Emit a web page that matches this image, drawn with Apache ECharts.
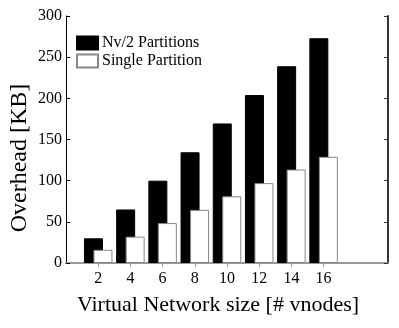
<!DOCTYPE html>
<html>
<head>
<meta charset="utf-8">
<script src="https://cdn.jsdelivr.net/npm/echarts@6/dist/echarts.min.js"></script>
<style>
  html, body { margin: 0; padding: 0; background: #fff; }
  #chart { width: 399px; height: 328px; }
</style>
</head>
<body>
<div id="chart"></div>
<script>
// x positions 0..20, bars only at 2..16
const sizes = ['0', '2', '4', '6', '8', '10', '12', '14', '16', '18', '20'];
const nvHalf = ['-', 30, 65, 100, 134.5, 169.5, 204, 239, 273, '-', '-'];
const single = ['-', 16, 32, 48.5, 64.5, 81, 97, 113.5, 129, '-', '-'];

const serif = "'Liberation Serif', 'Times New Roman', serif";
const shown = (i) => i >= 1 && i <= 8;

const chart = echarts.init(document.getElementById('chart'));
chart.setOption({
    animation: false,
    textStyle: { fontFamily: serif },
    grid: { left: 66, right: 11, top: 16, bottom: 65, containLabel: false, outerBoundsMode: 'none' },
    legend: {
        orient: 'vertical',
        left: 76,
        top: 35,
        padding: 0,
        itemGap: 2,
        itemWidth: 21,
        itemHeight: 13,
        icon: 'rect',
        textStyle: { fontFamily: serif, fontSize: 16, lineHeight: 13, color: '#000', padding: [0, 0, 0, -1] },
        data: ['Nv/2 Partitions', 'Single Partition']
    },
    graphic: [
        {
            type: 'text',
            x: 218,
            y: 305,
            style: {
                text: 'Virtual Network size [# vnodes]',
                font: "22px 'Liberation Serif', serif",
                fill: '#000',
                align: 'center',
                verticalAlign: 'middle'
            }
        },
        {
            type: 'text',
            x: 20,
            y: 158,
            rotation: Math.PI / 2,
            style: {
                text: 'Overhead [KB]',
                font: "24px 'Liberation Serif', serif",
                fill: '#000',
                align: 'center',
                verticalAlign: 'middle'
            }
        }
    ],
    xAxis: [
        {
            type: 'category',
            data: sizes,
            boundaryGap: false,
            axisLine: { lineStyle: { color: '#000', width: 1 } },
            axisTick: { inside: true, length: 4, interval: shown, lineStyle: { color: '#000' } },
            axisLabel: {
                interval: shown,
                fontFamily: serif, fontSize: 16, color: '#000', margin: 8
            },
            splitLine: { show: false }
        },
        {
            type: 'category',
            data: sizes,
            boundaryGap: false,
            position: 'top',
            axisLine: { lineStyle: { color: '#999', width: 2 } },
            axisTick: { inside: true, length: 4, interval: shown, lineStyle: { color: '#999' } },
            axisLabel: { show: false },
            splitLine: { show: false }
        }
    ],
    yAxis: [
        {
            type: 'value',
            min: 0,
            max: 300,
            interval: 50,
            axisLine: { show: true, lineStyle: { color: '#000', width: 1 } },
            axisTick: { show: true, inside: true, length: 4, lineStyle: { color: '#000' } },
            axisLabel: { fontFamily: serif, fontSize: 16, color: '#000', margin: 4 },
            splitLine: { show: false }
        },
        {
            type: 'value',
            min: 0,
            max: 300,
            interval: 50,
            position: 'right',
            axisLine: { show: true, lineStyle: { color: '#333', width: 2 } },
            axisTick: { show: true, inside: true, length: 4, lineStyle: { color: '#333' } },
            axisLabel: { show: false },
            splitLine: { show: false }
        }
    ],
    series: [
        {
            name: 'Nv/2 Partitions',
            type: 'bar',
            data: nvHalf,
            barWidth: 19,
            barGap: '-50%',
            itemStyle: { color: '#000', borderColor: '#000', borderWidth: 1 }
        },
        {
            name: 'Single Partition',
            type: 'bar',
            data: single,
            barWidth: 19,
            itemStyle: { color: '#fff', borderColor: '#888', borderWidth: 1 }
        }
    ]
});
</script>
</body>
</html>
